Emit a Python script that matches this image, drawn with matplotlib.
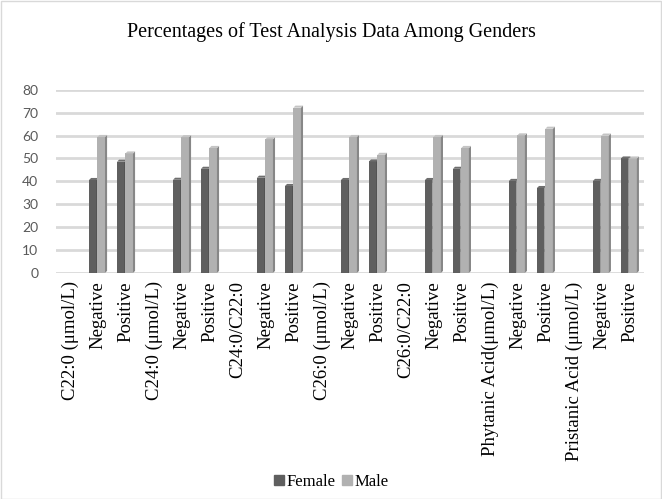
import matplotlib
matplotlib.use("Agg")
import matplotlib.pyplot as plt
import numpy as np
from matplotlib.patches import Polygon, Rectangle

categories = [
    "C22:0 (μmol/L)", "Negative", "Positive",
    "C24:0 (μmol/L)", "Negative", "Positive",
    "C24:0/C22:0", "Negative", "Positive",
    "C26:0 (μmol/L)", "Negative", "Positive",
    "C26:0/C22:0", "Negative", "Positive",
    "Phytanic Acid(μmol/L)", "Negative", "Positive",
    "Pristanic Acid (μmol/L)", "Negative", "Positive",
]
female = [np.nan, 40.6, 48.6, np.nan, 40.7, 45.5, np.nan, 41.6, 38.0,
          np.nan, 40.6, 48.7, np.nan, 40.6, 45.5, np.nan, 40.2, 37.1,
          np.nan, 40.2, 50.0]
male = [np.nan, 59.4, 52.2, np.nan, 59.3, 54.6, np.nan, 58.4, 72.2,
        np.nan, 59.4, 51.6, np.nan, 59.4, 54.6, np.nan, 60.1, 63.0,
        np.nan, 60.0, 50.0]

serif = "Liberation Serif"

fig = plt.figure(figsize=(6.62, 4.99), dpi=100)
ax = fig.add_axes([0.085, 0.453, 0.888, 0.367])

x = np.arange(len(categories))
w = 0.27
dx, dy = 0.075, 0.9  # fake 3D depth


def bar3d(xs, vals, front, side, top):
    for xi, v in zip(xs, vals):
        if np.isnan(v):
            continue
        ax.add_patch(Rectangle((xi, 0), w, v, facecolor=front, edgecolor="none", zorder=3))
        ax.add_patch(Polygon([(xi + w, 0), (xi + w + dx, dy), (xi + w + dx, v + dy), (xi + w, v)],
                             closed=True, facecolor=side, edgecolor="none", zorder=3))
        ax.add_patch(Polygon([(xi, v), (xi + dx, v + dy), (xi + w + dx, v + dy), (xi + w, v)],
                             closed=True, facecolor=top, edgecolor="none", zorder=3))


bar3d(x - 0.33, female, "#5f5f5f", "#474747", "#6e6e6e")
bar3d(x - 0.03, male, "#b1b1b1", "#878787", "#c4c4c4")

ax.set_xlim(-0.5, len(categories) - 0.5)
ax.set_ylim(0, 80)
ax.set_yticks(range(0, 81, 10))
ax.yaxis.grid(True, color="#d9d9d9", linewidth=2)
ax.set_axisbelow(True)
for s in ax.spines.values():
    s.set_visible(False)
ax.tick_params(axis="y", length=0, pad=13, labelsize=10, labelcolor="#595959")
for lbl in ax.get_yticklabels():
    lbl.set_fontfamily("Lato")

ax.set_xticks(x)
ax.set_xticklabels(categories, rotation=90, fontfamily=serif, fontsize=13.5)
ax.tick_params(axis="x", length=0, pad=6)

fig.suptitle("Percentages of Test Analysis Data Among Genders",
             fontfamily=serif, fontsize=14.5, y=0.955)

handles = [Rectangle((0, 0), 1, 1, color="#5f5f5f"), Rectangle((0, 0), 1, 1, color="#b1b1b1")]
fig.legend(handles, ["Female", "Male"], loc="lower center", bbox_to_anchor=(0.5, -0.012),
           ncol=2, frameon=False, prop={"family": serif, "size": 12},
           handlelength=0.6, handleheight=0.6, handletextpad=0.15, columnspacing=0.4)

fig.add_artist(Rectangle((0.001, 0.001), 0.997, 0.997, transform=fig.transFigure,
                         fill=False, edgecolor="#d9d9d9", linewidth=1))

fig.savefig("out.png", dpi=100)
